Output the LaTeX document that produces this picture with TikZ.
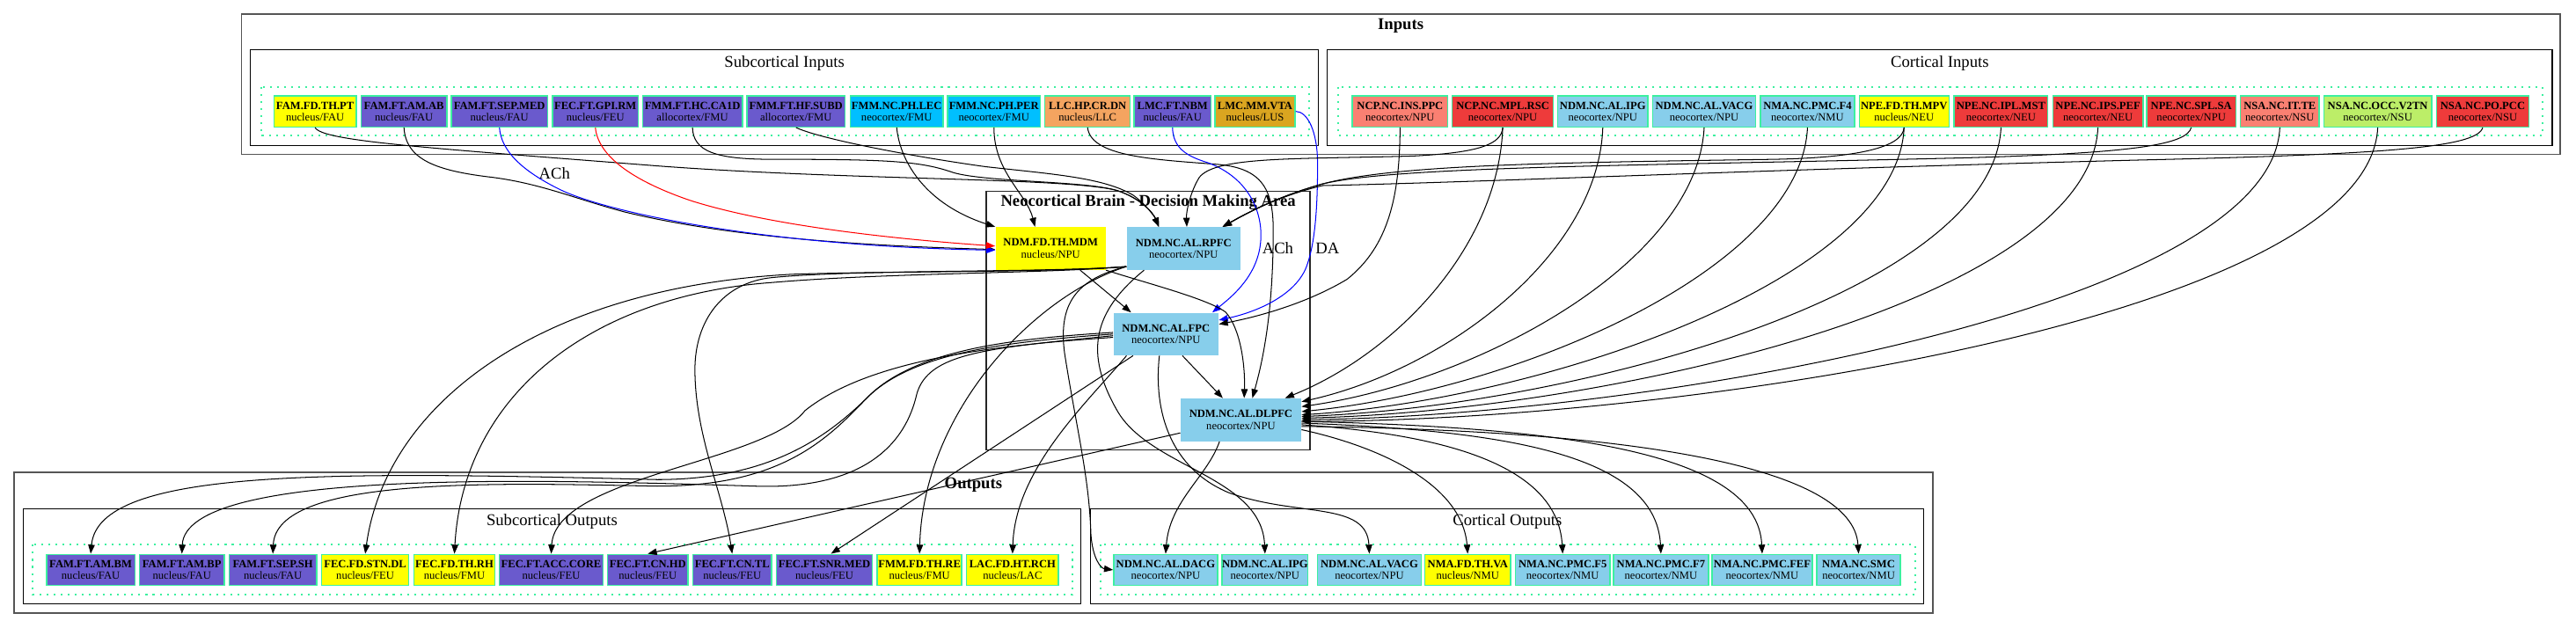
\documentclass[tikz,border=0pt]{standalone}
\usepackage{fontspec}
\setmainfont{Liberation Serif}
\usetikzlibrary{arrows.meta,calc}
\definecolor{cyellow}{HTML}{FFFF00}
\definecolor{cslate}{HTML}{6A5ACD}
\definecolor{cdeep}{HTML}{00BFFF}
\definecolor{csandy}{HTML}{F4A460}
\definecolor{cgold}{HTML}{DAA520}
\definecolor{csalmon}{HTML}{FA8072}
\definecolor{cbrown}{HTML}{EE3B3B}
\definecolor{csky}{HTML}{87CEEB}
\definecolor{colive}{HTML}{BCEE68}
\definecolor{cborder}{HTML}{3CF0A0}
\definecolor{cgrayline}{HTML}{555555}
\definecolor{cblue}{HTML}{0000FF}
\definecolor{cred}{HTML}{FF0000}
\newcommand{\ntx}[2]{\textbf{#1}\\#2}
\begin{document}
\begin{tikzpicture}[x=1pt,y=-1pt,
 every node/.style={inner sep=0pt},
 leaf/.style={draw=cborder, line width=0.8pt, minimum height=18.9pt, align=center, font=\fontsize{6.75}{6.9}\selectfont},
 core/.style={minimum height=26pt, align=center, font=\fontsize{6.75}{7.1}\selectfont},
 clab/.style={font=\fontsize{10}{12}\selectfont},
 cbold/.style={font=\bfseries\fontsize{10}{12}\selectfont},
 outerbox/.style={draw=cgrayline, line width=1pt},
 innerbox/.style={draw=black, line width=0.6pt},
 dotbox/.style={draw=cborder, line width=1.1pt, dash pattern=on 1.1pt off 3.2pt},
 edge/.style={draw=black, line width=0.55pt, -{Triangle[length=5.5pt,width=4pt]}},
 bedge/.style={edge, draw=cblue, -{Triangle[length=5.5pt,width=4pt,fill=cblue]}},
 redge/.style={edge, draw=cred, -{Triangle[length=5.5pt,width=4pt,fill=cred]}},
]
\useasboundingbox (0,0) rectangle (1568,382);
\fill[white] (0,0) rectangle (1568,382);

% ---------- clusters ----------
\draw[outerbox] (147,8.4) rectangle (1558.2,94);
\node[cbold] (tinputs) at (852.6,15.7) {Inputs};
\draw[innerbox] (152.3,30.4) rectangle (802.6,88.4);
\node[clab] (tsubin) at (477.5,38.6) {Subcortical Inputs};
\draw[dotbox] (158.8,53) rectangle (796.8,82.6);
\draw[innerbox] (808,30.4) rectangle (1553.5,88.4);
\node[clab] (tcortin) at (1180.7,38.6) {Cortical Inputs};
\draw[dotbox] (814.5,53) rectangle (1547.6,82.6);

\draw[draw=black!85, line width=0.7pt] (600.3,116.4) rectangle (797.4,274);
\node[cbold] (tneo) at (698.9,123.4) {Neocortical Brain - Decision Making Area};

\draw[outerbox] (8.4,287.7) rectangle (1176.7,373.4);
\node[cbold] (toutputs) at (592.5,295.1) {Outputs};
\draw[innerbox] (14,309.7) rectangle (658,367.7);
\node[clab] (tsubout) at (336,317.6) {Subcortical Outputs};
\draw[dotbox] (20,331.7) rectangle (652.8,362);
\draw[innerbox] (664,309.7) rectangle (1171,367.7);
\node[clab] (tcortout) at (917.5,317.6) {Cortical Outputs};
\draw[dotbox] (669.7,331.7) rectangle (1165.6,362);

% ---------- subcortical inputs ----------
\node[leaf, fill=cyellow, minimum width=50.2pt] (in1) at (191.8,67.8) {\ntx{FAM.FD.TH.PT}{nucleus/FAU}};
\node[leaf, fill=cslate, minimum width=52.1pt] (in2) at (245.9,67.8) {\ntx{FAM.FT.AM.AB}{nucleus/FAU}};
\node[leaf, fill=cslate, minimum width=58.6pt] (in3) at (304,67.8) {\ntx{FAM.FT.SEP.MED}{nucleus/FAU}};
\node[leaf, fill=cslate, minimum width=52.3pt] (in4) at (362.4,67.8) {\ntx{FEC.FT.GPI.RM}{nucleus/FEU}};
\node[leaf, fill=cslate, minimum width=60.8pt] (in5) at (421.5,67.8) {\ntx{FMM.FT.HC.CA1D}{allocortex/FMU}};
\node[leaf, fill=cslate, minimum width=59.6pt] (in6) at (484.5,67.8) {\ntx{FMM.FT.HF.SUBD}{allocortex/FMU}};
\node[leaf, fill=cdeep, minimum width=56.3pt] (in7) at (545.8,67.8) {\ntx{FMM.NC.PH.LEC}{neocortex/FMU}};
\node[leaf, fill=cdeep, minimum width=56.7pt] (in8) at (605,67.8) {\ntx{FMM.NC.PH.PER}{neocortex/FMU}};
\node[leaf, fill=csandy, minimum width=51.9pt] (in9) at (662,67.8) {\ntx{LLC.HP.CR.DN}{nucleus/LLC}};
\node[leaf, fill=cslate, minimum width=46.7pt] (in10) at (713.7,67.8) {\ntx{LMC.FT.NBM}{nucleus/FAU}};
\node[leaf, fill=cgold, minimum width=48.8pt] (in11) at (763.9,67.8) {\ntx{LMC.MM.VTA}{nucleus/LUS}};

% ---------- cortical inputs ----------
\node[leaf, fill=csalmon, minimum width=58.1pt] (ci1) at (852.2,67.8) {\ntx{NCP.NC.INS.PPC}{neocortex/NPU}};
\node[leaf, fill=cbrown, minimum width=61.7pt] (ci2) at (914.7,67.8) {\ntx{NCP.NC.MPL.RSC}{neocortex/NPU}};
\node[leaf, fill=csky, minimum width=55pt] (ci3) at (975.6,67.8) {\ntx{NDM.NC.AL.IPG}{neocortex/NPU}};
\node[leaf, fill=csky, minimum width=62.6pt] (ci4) at (1037.3,67.8) {\ntx{NDM.NC.AL.VACG}{neocortex/NPU}};
\node[leaf, fill=csky, minimum width=57.3pt] (ci5) at (1100.2,67.8) {\ntx{NMA.NC.PMC.F4}{neocortex/NMU}};
\node[leaf, fill=cyellow, minimum width=54.6pt] (ci6) at (1159,67.8) {\ntx{NPE.FD.TH.MPV}{nucleus/NEU}};
\node[leaf, fill=cbrown, minimum width=57pt] (ci7) at (1218,67.8) {\ntx{NPE.NC.IPL.MST}{neocortex/NEU}};
\node[leaf, fill=cbrown, minimum width=55pt] (ci8) at (1277,67.8) {\ntx{NPE.NC.IPS.PEF}{neocortex/NEU}};
\node[leaf, fill=cbrown, minimum width=54.4pt] (ci9) at (1333.8,67.8) {\ntx{NPE.NC.SPL.SA}{neocortex/NPU}};
\node[leaf, fill=csalmon, minimum width=47.9pt] (ci10) at (1387.7,67.8) {\ntx{NSA.NC.IT.TE}{neocortex/NSU}};
\node[leaf, fill=colive, minimum width=65.5pt] (ci11) at (1447.3,67.8) {\ntx{NSA.NC.OCC.V2TN}{neocortex/NSU}};
\node[leaf, fill=cbrown, minimum width=56.4pt] (ci12) at (1511.2,67.8) {\ntx{NSA.NC.PO.PCC}{neocortex/NSU}};

% ---------- decision making area ----------
\node[core, fill=cyellow, minimum width=67pt] (mdm) at (639.5,151.3) {\ntx{NDM.FD.TH.MDM}{nucleus/NPU}};
\node[core, fill=csky, minimum width=69.2pt] (rpfc) at (720.4,151.3) {\ntx{NDM.NC.AL.RPFC}{neocortex/NPU}};
\node[core, fill=csky, minimum width=64pt, minimum height=25.9pt] (fpc) at (709.7,203.4) {\ntx{NDM.NC.AL.FPC}{neocortex/NPU}};
\node[core, fill=csky, minimum width=73.4pt] (dlpfc) at (755.3,255.6) {\ntx{NDM.NC.AL.DLPFC}{neocortex/NPU}};

% ---------- subcortical outputs ----------
\node[leaf, fill=cslate, minimum width=53.9pt] (so1) at (55.2,347) {\ntx{FAM.FT.AM.BM}{nucleus/FAU}};
\node[leaf, fill=cslate, minimum width=51.7pt] (so2) at (110.7,347) {\ntx{FAM.FT.AM.BP}{nucleus/FAU}};
\node[leaf, fill=cslate, minimum width=53.4pt] (so3) at (166.1,347) {\ntx{FAM.FT.SEP.SH}{nucleus/FAU}};
\node[leaf, fill=cyellow, minimum width=52.9pt] (so4) at (222.3,347) {\ntx{FEC.FD.STN.DL}{nucleus/FEU}};
\node[leaf, fill=cyellow, minimum width=49.5pt] (so5) at (276.6,347) {\ntx{FEC.FD.TH.RH}{nucleus/FMU}};
\node[leaf, fill=cslate, minimum width=63pt] (so6) at (335.5,347) {\ntx{FEC.FT.ACC.CORE}{nucleus/FEU}};
\node[leaf, fill=cslate, minimum width=49.1pt] (so7) at (394.3,347) {\ntx{FEC.FT.CN.HD}{nucleus/FEU}};
\node[leaf, fill=cslate, minimum width=47.8pt] (so8) at (445.7,347) {\ntx{FEC.FT.CN.TL}{nucleus/FEU}};
\node[leaf, fill=cslate, minimum width=58.4pt] (so9) at (501.8,347) {\ntx{FEC.FT.SNR.MED}{nucleus/FEU}};
\node[leaf, fill=cyellow, minimum width=51.4pt] (so10) at (559.7,347) {\ntx{FMM.FD.TH.RE}{nucleus/FMU}};
\node[leaf, fill=cyellow, minimum width=56.1pt] (so11) at (616.3,347) {\ntx{LAC.FD.HT.RCH}{nucleus/LAC}};

% ---------- cortical outputs ----------
\node[leaf, fill=csky, minimum width=63.1pt] (co1) at (709.5,347) {\ntx{NDM.NC.AL.DACG}{neocortex/NPU}};
\node[leaf, fill=csky, minimum width=52.3pt] (co2) at (770,347) {\ntx{NDM.NC.AL.IPG}{neocortex/NPU}};
\node[leaf, fill=csky, minimum width=63.4pt] (co3) at (833.5,347) {\ntx{NDM.NC.AL.VACG}{neocortex/NPU}};
\node[leaf, fill=cyellow, minimum width=52.4pt] (co4) at (893.4,347) {\ntx{NMA.FD.TH.VA}{nucleus/NMU}};
\node[leaf, fill=csky, minimum width=57.7pt] (co5) at (951.2,347) {\ntx{NMA.NC.PMC.F5}{neocortex/NMU}};
\node[leaf, fill=csky, minimum width=57.7pt] (co6) at (1011,347) {\ntx{NMA.NC.PMC.F7}{neocortex/NMU}};
\node[leaf, fill=csky, minimum width=61pt] (co7) at (1072.6,347) {\ntx{NMA.NC.PMC.FEF}{neocortex/NMU}};
\node[leaf, fill=csky, minimum width=50.9pt] (co8) at (1131.3,347) {\ntx{NMA.NC.SMC}{neocortex/NMU}};

% ---------- edge labels ----------
\node[clab] (lach1) at (337.5,105.7) {ACh};
\node[clab] (lach2) at (777.8,151) {ACh};
\node[clab] (lda) at (808,151) {DA};

% ---------- input edges ----------
\draw[edge] (in1.south) .. controls (196,86) and (260,90) .. (400,101) .. controls (520,110) and (650,108) .. (680,116) .. controls (695,121) and (702,130) .. ($(rpfc.north)+(-15,0)$);
\draw[edge] (in5.south) .. controls (422,92) and (435,97) .. (470,97) .. controls (540,97) and (560,98) .. (580,105) .. controls (600,111) and (660,110) .. (680,116) .. controls (695,121) and (702,130) .. ($(rpfc.north)+(-15,0)$);
\draw[edge] (in6.south) .. controls (500,85) and (560,96) .. (600,101.5) .. controls (640,106) and (672,108) .. (690,119) .. controls (698,125) and (703,132) .. ($(rpfc.north)+(-15,0)$);
\draw[edge] (in2.south) .. controls (247,97) and (265,104) .. (300,108) .. controls (330,112) and (350,121) .. (380,129) .. controls (450,146) and (540,150) .. ($(mdm.west)+(0,0.6)$);
\draw[bedge] (in3.south) .. controls (305,92) and (318,104) .. (340,115) .. controls (370,130) and (470,150) .. ($(mdm.west)+(0,1)$);
\draw[redge] (in4.south) .. controls (364,95) and (385,110) .. (420,122) .. controls (470,138) and (550,146) .. ($(mdm.west)+(0,-1.5)$);
\draw[edge] (in7.south) .. controls (548,100) and (565,125) .. (mdm.north west);
\draw[edge] (in8.south) .. controls (605,105) and (625,118) .. ($(mdm.north)+(-9.5,0)$);
\draw[edge] (in9.south) .. controls (664,95) and (700,97) .. (740,100) .. controls (768,102) and (775,115) .. (775,140) .. controls (775,185) and (770,215) .. ($(dlpfc.north)+(7,0)$);
\draw[bedge] (in10.south) .. controls (714,90) and (722,95) .. (735,99) .. controls (760,108) and (770,130) .. (767,150) .. controls (764,170) and (748,182) .. ($(fpc.north east)+(-4,0)$);
\draw[bedge] (in11.east) .. controls (796,68) and (802,80) .. (802,100) .. controls (802,130) and (800,150) .. (795,163) .. controls (788,180) and (765,190) .. ($(fpc.east)+(0,-8.5)$);

\draw[edge] (ci1.south) .. controls (852,120) and (845,150) .. (820,170) .. controls (795,185) and (765,193) .. ($(fpc.east)+(0,-6)$);
\draw[edge] (ci2.south) .. controls (914,88) and (900,93) .. (860,95) .. controls (790,97) and (740,95) .. (730,108) .. controls (725,116) and (722,128) .. ($(rpfc.north)+(2,0)$);
\draw[edge] (ci2.south) .. controls (912,150) and (850,215) .. ($(dlpfc.north east)+(-10,0)$);
\draw[edge] (ci3.south) .. controls (973,155) and (880,225) .. ($(dlpfc.east)+(0,-11)$);
\draw[edge] (ci4.south) .. controls (1033,160) and (900,232) .. ($(dlpfc.east)+(0,-8)$);
\draw[edge] (ci5.south) .. controls (1096,165) and (920,238) .. ($(dlpfc.east)+(0,-5)$);
\draw[edge] (ci6.south) .. controls (1155,170) and (940,243) .. ($(dlpfc.east)+(0,-3)$);
\draw[edge] (ci7.south) .. controls (1213,178) and (960,247) .. ($(dlpfc.east)+(0,-2)$);
\draw[edge] (ci8.south) .. controls (1272,183) and (980,250) .. ($(dlpfc.east)+(0,-1)$);
\draw[edge] (ci10.south) .. controls (1383,188) and (1000,253) .. ($(dlpfc.east)+(0,0)$);
\draw[edge] (ci11.south) .. controls (1442,192) and (1030,256) .. ($(dlpfc.east)+(0,1)$);
\draw[edge] (ci6.south) .. controls (1158,90) and (1130,96) .. (1080,97) .. controls (950,99) and (850,100) .. (805,112) .. controls (780,119) and (762,128) .. ($(rpfc.north east)+(-11,0)$);
\draw[edge] (ci9.south) .. controls (1331,88) and (1300,93) .. (1200,96) .. controls (1000,101) and (850,101) .. (805,112) .. controls (780,119) and (762,128) .. ($(rpfc.north east)+(-11,0)$);
\draw[edge] (ci12.south) .. controls (1508,90) and (1450,94) .. (1300,97.5) .. controls (1050,104) and (900,111) .. (805,113) .. controls (780,119) and (762,128) .. ($(rpfc.north east)+(-11,0)$);

% ---------- internal edges ----------
\draw[edge] ($(mdm.south)+(18,0)$) -- ($(fpc.north west)+(11,0)$);
\draw[edge] (mdm.south east) .. controls (700,173) and (735,182) .. (746,190) .. controls (755,200) and (758,222) .. ($(dlpfc.north)+(2,0)$);
\draw[edge] ($(fpc.south)+(10,0)$) -- ($(dlpfc.north)+(-11,0)$);

% ---------- output edges ----------
\coordinate (rs) at ($(rpfc.west)+(0,11)$);
\draw[edge] (rs) .. controls (640,166) and (540,165) .. (482,167) .. controls (330,175) and (235,245) .. (so4.north);
\draw[edge] (rs) .. controls (640,166.5) and (540,166) .. (470,172) .. controls (360,180) and (282,240) .. (so5.north);
\draw[edge] (rs) .. controls (640,166) and (520,164) .. (470,169) .. controls (440,172) and (423,195) .. (423,225) .. controls (423,265) and (440,300) .. (so8.north);
\draw[edge] (rs) .. controls (630,180) and (562,250) .. (so10.north);
\draw[edge] (rs) .. controls (655,170) and (644,185) .. (648,215) .. controls (655,260) and (663,290) .. (664,325) .. controls (665,340) and (670,346) .. (co1.west);
\draw[edge] ($(rpfc.south)+(-24,0)$) .. controls (665,190) and (660,215) .. (680,250) .. controls (700,285) and (768,290) .. (co2.north);

\draw[edge] ($(fpc.south)+(-4,0)$) .. controls (702,250) and (712,285) .. (748,300) .. controls (790,315) and (832,305) .. (co3.north);
\draw[edge] ($(fpc.south)+(-20,0)$) -- ($(so9.north)+(4,0)$);
\draw[edge] ($(fpc.south)+(-24,0)$) .. controls (662,245) and (618,285) .. (so11.north);
\draw[edge] ($(fpc.west)+(0,2)$) .. controls (610,210) and (530,218) .. (490,250) .. controls (465,282) and (338,290) .. (so6.north);
\draw[edge] ($(fpc.west)+(0,-1)$) .. controls (620,206) and (560,212) .. (530,240) .. controls (505,265) and (470,292) .. (400,292) .. controls (200,287) and (60,285) .. (so1.north);
\draw[edge] ($(fpc.west)+(0,1)$) .. controls (600,212) and (565,215) .. (558,240) .. controls (550,275) and (520,298) .. (460,296) .. controls (330,292) and (113,285) .. (so2.north);
\draw[edge] ($(fpc.west)+(0,0)$) .. controls (615,208) and (555,214) .. (527,243) .. controls (503,268) and (475,296) .. (400,296) .. controls (300,294) and (168,290) .. (so3.north);

\draw[edge] ($(dlpfc.south)+(-13,0)$) .. controls (735,290) and (712,305) .. (co1.north);
\draw[edge] ($(dlpfc.west)+(0,8)$) -- (so7.north);
\draw[edge] ($(dlpfc.east)+(0,6)$) .. controls (840,272) and (890,295) .. (co4.north);
\draw[edge] ($(dlpfc.east)+(0,3)$) .. controls (870,264) and (948,280) .. (co5.north);
\draw[edge] ($(dlpfc.east)+(0,2)$) .. controls (910,262) and (1008,275) .. (co6.north);
\draw[edge] ($(dlpfc.east)+(0,1)$) .. controls (950,260) and (1070,275) .. (co7.north);
\draw[edge] ($(dlpfc.east)+(0,4)$) .. controls (1000,262) and (1128,285) .. (co8.north);
\end{tikzpicture}
\end{document}
